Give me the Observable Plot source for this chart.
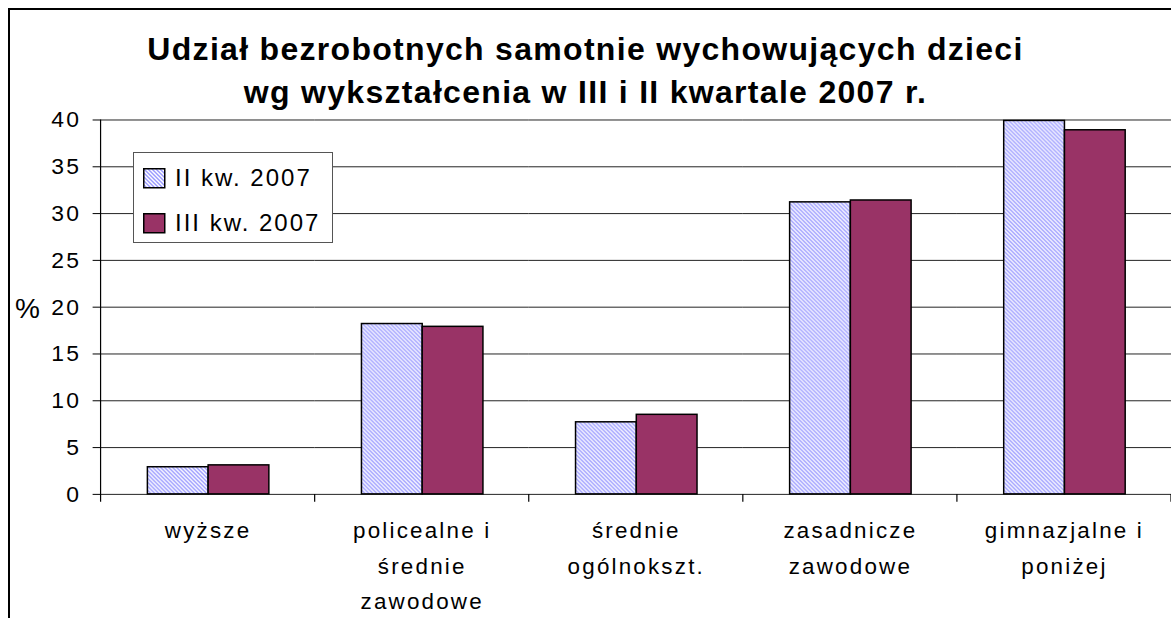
<!DOCTYPE html>
<html>
<head>
<meta charset="utf-8">
<script src="https://cdn.jsdelivr.net/npm/d3@7"></script>
<script src="https://cdn.jsdelivr.net/npm/@observablehq/plot@0.6"></script>
<style>
  html, body { margin: 0; padding: 0; background: #fff; overflow: hidden; width: 1171px; height: 618px; }
  body { position: relative; font-family: "Liberation Sans", Arial, sans-serif; color: #000; }
  #frame { position: absolute; left: 8px; top: 8px; width: 1300px; height: 700px; border-left: 2px solid #000; border-top: 2px solid #000; }
  #chart { position: absolute; left: 0; top: 0; }
  #title { position: absolute; left: 0; top: 28px; width: 1171px; text-align: center; font-weight: bold; font-size: 32px; letter-spacing: 1.3px; line-height: 43px; white-space: nowrap; }
  #pct { position: absolute; left: 15px; top: 293px; font-size: 28px; line-height: 32px; }
  #legend { position: absolute; left: 133px; top: 152px; width: 198px; height: 89px; border: 1px solid #555; background: #fff; }
  .item { position: absolute; left: 9px; height: 30px; display: flex; align-items: center; font-size: 24px; letter-spacing: 2px; white-space: nowrap; }
  .item svg { margin-right: 9px; }
</style>
</head>
<body>
<svg width="0" height="0" style="position:absolute">
  <defs>
    <pattern id="hatch" patternUnits="userSpaceOnUse" width="4" height="4">
      <rect width="4" height="4" fill="#fff"/>
      <path d="M-1,-1L5,5M-1,3L1,5M3,-1L5,1" stroke="#9999ff" stroke-width="1.4"/>
    </pattern>
  </defs>
</svg>
<div id="frame"></div>
<div id="chart"></div>
<div id="title">Udział bezrobotnych samotnie wychowujących dzieci<br>wg wykształcenia w III i II kwartale 2007 r.</div>
<div id="pct">%</div>
<div id="legend"></div>
<script>
const categories = ["wyższe", "policealne i średnie zawodowe", "średnie ogólnokszt.", "zasadnicze zawodowe", "gimnazjalne i poniżej"];
const tickLabels = ["wyższe", "policealne i\nśrednie\nzawodowe", "średnie\nogólnokszt.", "zasadnicze\nzawodowe", "gimnazjalne i\nponiżej"];
const series = ["II kw. 2007", "III kw. 2007"];
const valuesII = [2.9, 18.2, 7.7, 31.2, 39.9];
const valuesIII = [3.1, 17.9, 8.5, 31.4, 38.9];
const yTicks = [0, 5, 10, 15, 20, 25, 30, 35, 40];
const seriesFill = ["url(#hatch)", "#993366"];

const data = [];
categories.forEach((c, i) => {
  data.push({cat: c, series: series[0], value: valuesII[i]});
  data.push({cat: c, series: series[1], value: valuesIII[i]});
});

const plot = Plot.plot({
  width: 1176,
  height: 618,
  marginLeft: 101,
  marginRight: 0,
  marginTop: 120,
  marginBottom: 122,
  style: {fontFamily: '"Liberation Sans", Arial, sans-serif', letterSpacing: "2.2px", background: "transparent", overflow: "visible", color: "#000"},
  fx: {domain: categories, padding: 0, label: null},
  x: {domain: series, paddingInner: 0, paddingOuter: 0.75, axis: null},
  y: {domain: [0, 40], label: null},
  color: {domain: series, range: seriesFill},
  marks: [
    Plot.gridY(yTicks, {stroke: "#222", strokeOpacity: 1, strokeWidth: 1}),
    Plot.axisY(yTicks, {tickSize: 8, tickPadding: 12, fontSize: 23, label: null}),
    Plot.axisFx({anchor: "bottom", tickSize: 0, tickPadding: 19, fontSize: 22.5, lineHeight: 1.58, label: null,
      tickFormat: d => tickLabels[categories.indexOf(d)]}),
    Plot.barY(data, {fx: "cat", x: "series", y: "value", fill: "series", stroke: "#000", strokeWidth: 1.5, inset: 0})
  ]
});
document.getElementById("chart").appendChild(plot);

// axis line and category boundary ticks, from the plot's own scales
const fxS = plot.scale("fx");
const yS = plot.scale("y");
const band = d3.scaleBand().domain(fxS.domain).range(fxS.range)
  .paddingInner(fxS.paddingInner ?? 0).paddingOuter(fxS.paddingOuter ?? 0).align(fxS.align ?? 0.5);
const y0 = Math.max(...yS.range), y1 = Math.min(...yS.range);
const g = d3.select(plot).append("g").attr("stroke", "#000").attr("stroke-width", 1.2);
const x0 = band(categories[0]);
g.append("line").attr("x1", x0).attr("x2", x0).attr("y1", y1).attr("y2", y0 + 8);
categories.forEach(c => {
  const xe = band(c) + band.bandwidth();
  g.append("line").attr("x1", xe).attr("x2", xe).attr("y1", y0).attr("y2", y0 + 8);
});

// legend
const legend = document.getElementById("legend");
series.forEach((s, i) => {
  const item = document.createElement("div");
  item.className = "item";
  item.style.top = (10 + i * 45) + "px";
  item.innerHTML = `<svg width="23" height="21"><rect x="0.75" y="0.75" width="21" height="19" fill="${seriesFill[i]}" stroke="#000" stroke-width="1.5"/></svg><span>${s}</span>`;
  legend.appendChild(item);
});
</script>
</body>
</html>
